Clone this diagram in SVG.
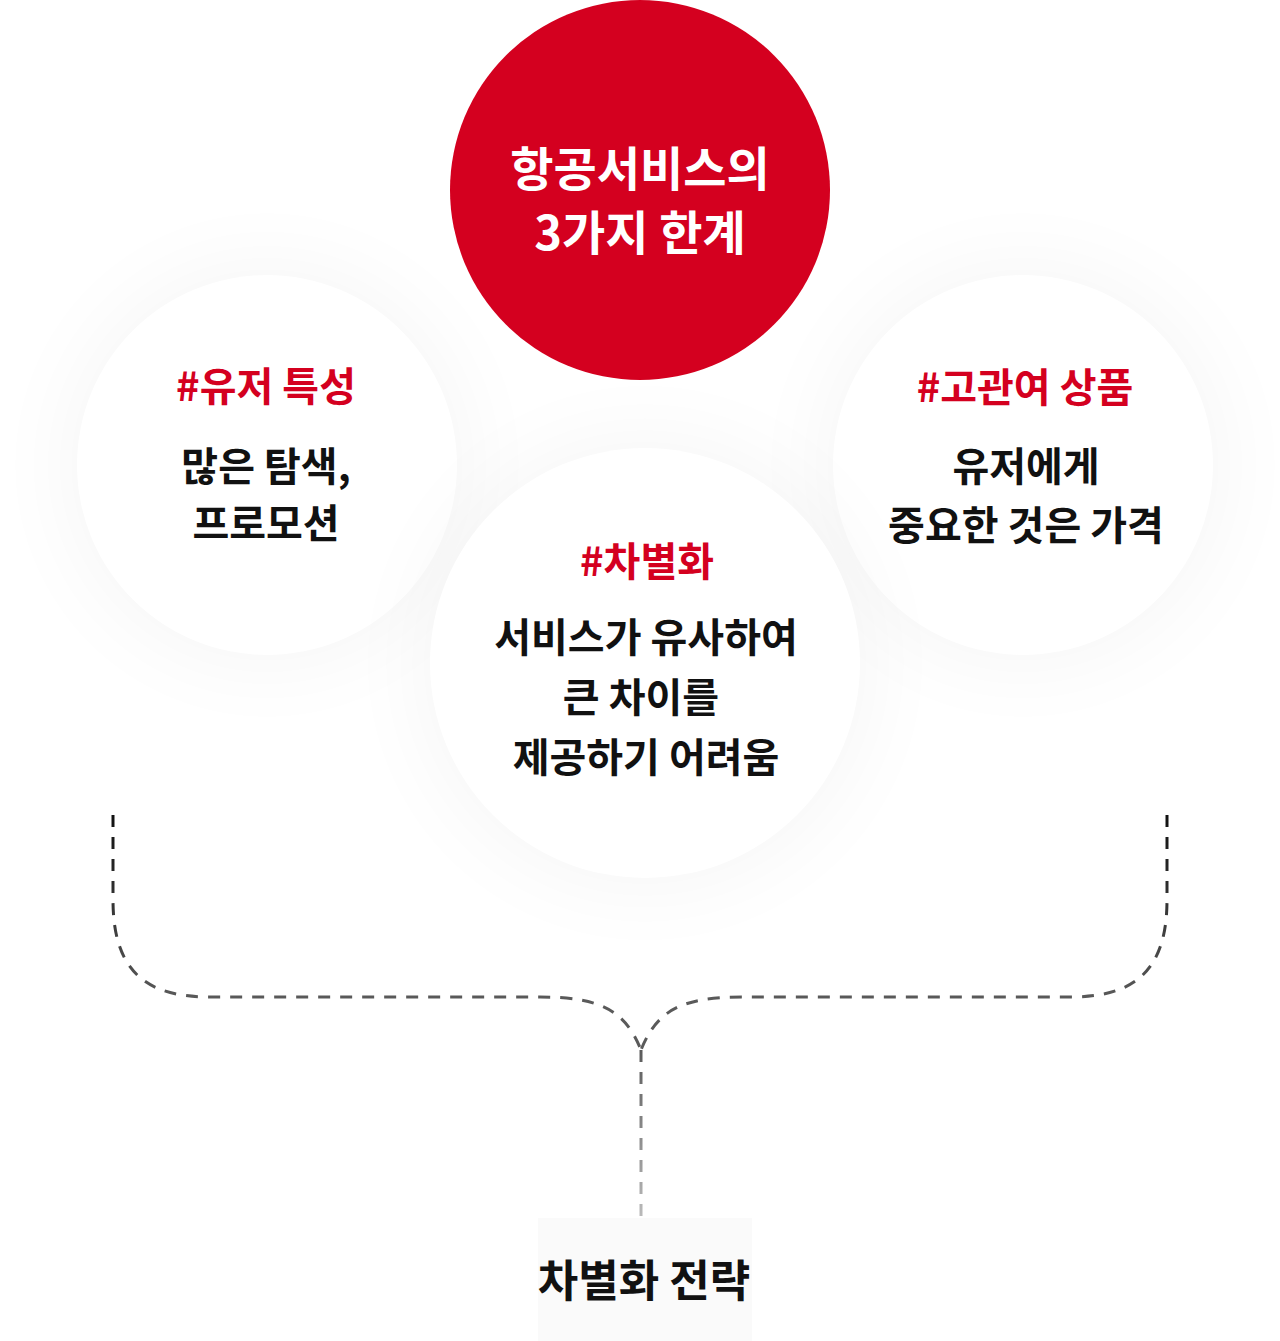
<svg xmlns="http://www.w3.org/2000/svg" width="1280" height="1341" viewBox="0 0 1280 1341">
  <style>
    .t { font-family: "Noto Sans CJK KR", "Noto Sans", sans-serif; font-weight: 700; text-anchor: middle; }
    .red { fill: #d4001f; font-size: 40px; }
    .blk { fill: #111111; font-size: 40px; }
    .wht { fill: #ffffff; font-size: 47px; }
    .card { fill: #ffffff; }
    .shadow { fill: #000000; opacity: 0.035; }
    .dash { fill: none; stroke-width: 3; stroke-dasharray: 12 10; }
  </style>
  <defs>
    <filter id="blur" x="-60%" y="-60%" width="220%" height="220%">
      <feGaussianBlur stdDeviation="45"/>
    </filter>
    <linearGradient id="gSide" gradientUnits="userSpaceOnUse" x1="0" y1="815" x2="0" y2="1000">
      <stop offset="0" stop-color="#111111"/>
      <stop offset="1" stop-color="#5a5a5a"/>
    </linearGradient>
    <linearGradient id="gDown" gradientUnits="userSpaceOnUse" x1="0" y1="1040" x2="0" y2="1218">
      <stop offset="0" stop-color="#555555"/>
      <stop offset="1" stop-color="#bbbbbb"/>
    </linearGradient>
  </defs>
  <rect width="1280" height="1341" fill="#ffffff"/>

  <g id="connectors">
    <path class="dash" stroke="url(#gSide)" d="M113,815 V900 C113,975 150,997 210,997 H540 C600,997 625,1010 641,1050"/>
    <path class="dash" stroke="url(#gSide)" d="M1167,815 V900 C1167,975 1130,997 1070,997 H742 C682,997 657,1010 641,1050"/>
    <path class="dash" stroke="url(#gDown)" d="M641,1050 V1218"/>
  </g>

  <g id="node-user">
    <circle class="shadow" cx="267" cy="465" r="200" filter="url(#blur)"/>
    <circle class="card" cx="267" cy="465" r="190"/>
    <text class="t red" x="266" y="401">#유저 특성</text>
    <text class="t blk" x="266" y="481">많은 탐색,</text>
    <text class="t blk" x="266" y="538">프로모션</text>
  </g>

  <g id="node-product">
    <circle class="shadow" cx="1023" cy="465" r="200" filter="url(#blur)"/>
    <circle class="card" cx="1023" cy="465" r="190"/>
    <text class="t red" x="1025" y="402">#고관여 상품</text>
    <text class="t blk" x="1026" y="481">유저에게</text>
    <text class="t blk" x="1026" y="540">중요한 것은 가격</text>
  </g>

  <g id="node-diff">
    <circle class="shadow" cx="645" cy="663" r="225" filter="url(#blur)"/>
    <circle class="card" cx="645" cy="663" r="215"/>
    <text class="t red" x="647" y="576">#차별화</text>
    <text class="t blk" x="646" y="652">서비스가 유사하여</text>
    <text class="t blk" x="641" y="712">큰 차이를</text>
    <text class="t blk" x="646" y="772">제공하기 어려움</text>
  </g>

  <g id="node-main">
    <circle cx="640" cy="190" r="190" fill="#d4001f"/>
    <text class="t wht" x="640" y="186">항공서비스의</text>
    <text class="t wht" x="640" y="250">3가지 한계</text>
  </g>

  <g id="node-strategy">
    <rect x="538" y="1218" width="214" height="123" fill="#fafafa"/>
    <text class="t" x="644" y="1297" style="font-size:44px; fill:#111111">차별화 전략</text>
  </g>
</svg>
